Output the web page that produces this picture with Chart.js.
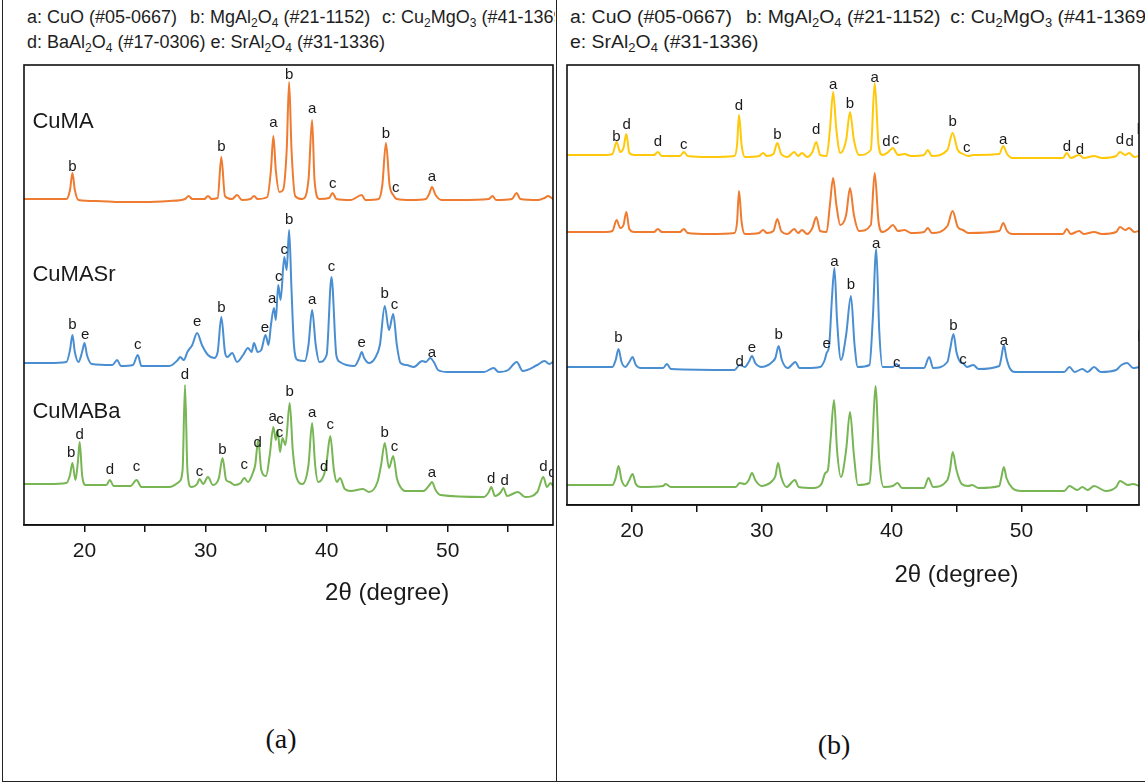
<!DOCTYPE html>
<html><head><meta charset="utf-8">
<script src="https://cdn.jsdelivr.net/npm/chart.js@4.4.1/dist/chart.umd.min.js"></script>
<style>
html,body{margin:0;padding:0;background:#fff;overflow:hidden;width:1145px;height:783px;}
#wrap{position:relative;width:1145px;height:783px;}
.cell{position:absolute;top:0;height:62px;overflow:hidden;}
.inner{position:absolute;left:0;top:0;width:700px;height:62px;}
.legend{position:absolute;white-space:nowrap;font-family:"Liberation Sans",Arial,sans-serif;font-size:18px;color:#1e1e1e;line-height:20px;}
.legend sub{font-size:12px;vertical-align:-4px;line-height:0;}
canvas{position:absolute;}
.plab{position:absolute;font-family:"Liberation Serif","Times New Roman",serif;font-size:28px;color:#111;transform:translate(-50%,-50%);}
.ln{position:absolute;background:#222;}
</style></head>
<body><div id="wrap">
<div class="ln" style="left:2px;top:0;width:1px;height:782px;"></div>
<div class="ln" style="left:556px;top:0;width:1px;height:782px;"></div>
<div class="ln" style="left:2px;top:781px;width:1143px;height:1px;"></div>

<div class="cell" style="left:3px;width:552px;">
  <div class="legend" style="left:24px;top:7px;">a: CuO (#05-0667)</div>
  <div class="legend" style="left:187px;top:7px;">b: MgAl<sub>2</sub>O<sub>4</sub> (#21-1152)</div>
  <div class="legend" style="left:379px;top:7px;">c: Cu<sub>2</sub>MgO<sub>3</sub> (#41-1369)</div>
  <div class="legend" style="left:24px;top:32px;">d: BaAl<sub>2</sub>O<sub>4</sub> (#17-0306) e: SrAl<sub>2</sub>O<sub>4</sub> (#31-1336)</div>
</div>
<div class="cell" style="left:558px;width:587px;">
  <div class="inner" style="left:12px;transform:scaleX(1.08);transform-origin:0 0;">
    <div class="legend" style="left:0px;top:7px;">a: CuO (#05-0667)</div>
    <div class="legend" style="left:163px;top:7px;">b: MgAl<sub>2</sub>O<sub>4</sub> (#21-1152)</div>
    <div class="legend" style="left:352px;top:7px;">c: Cu<sub>2</sub>MgO<sub>3</sub> (#41-1369)</div>
    <div class="legend" style="left:0px;top:32px;">e: SrAl<sub>2</sub>O<sub>4</sub> (#31-1336)</div>
  </div>
</div>

<canvas id="cA" width="549" height="560" style="left:14px;top:55px;"></canvas>
<canvas id="cB" width="592" height="540" style="left:557px;top:55px;"></canvas>

<div class="plab" style="left:281px;top:739px;">(a)</div>
<div class="plab" style="left:834px;top:745px;">(b)</div>
</div>

<script>
// ---------------- DATA ----------------
const xTicks = [20, 25, 30, 35, 40, 45, 50, 55];
const xTitle = '2θ (degree)';

// Panel (a): [2θ, intensity (a.u., stacked)]
const a_CuMA = [[15.0,326],[17.0,326],[18.5,326],[18.8,335],[19.0,352],[19.2,335],[19.5,325],[21.0,324],[23.0,323],[25.0,323],[27.0,324],[28.3,326],[28.6,329],[28.9,326],[29.9,326],[30.2,329],[30.5,326],[31.0,327],[31.3,368],[31.6,329],[32.2,326],[32.6,330],[33.0,325],[33.7,326],[34.0,329],[34.3,326],[35.1,328],[35.4,355],[35.6,389],[35.8,355],[36.1,333],[36.4,335],[36.7,375],[36.9,443],[37.1,375],[37.4,329],[38.0,326],[38.5,345],[38.8,405],[39.0,345],[39.4,326],[40.2,327],[40.5,332],[40.8,326],[42.0,325],[42.9,330],[43.2,325],[44.3,326],[44.6,340],[44.9,382],[45.2,340],[45.5,330],[45.8,326],[47.0,325],[48.2,326],[48.5,332],[48.7,338],[49.0,330],[49.5,325],[51.0,325],[53.4,326],[53.7,329],[54.0,325],[55.3,326],[55.7,332],[56.0,326],[57.5,325],[58.0,327],[58.3,329],[58.7,326]];
const a_CuMASr = [[15.0,162],[17.0,162],[18.5,163],[18.8,175],[19.0,190],[19.2,173],[19.5,163],[19.8,173],[20.0,182],[20.2,170],[20.6,161],[22.3,160],[22.7,165],[23.0,159],[24.0,160],[24.4,170],[24.7,159],[27.0,159],[27.7,165],[27.9,168],[28.2,165],[28.5,173],[28.9,180],[29.3,192],[29.7,180],[30.2,170],[30.7,167],[31.0,173],[31.3,208],[31.6,173],[31.8,168],[32.2,172],[32.6,163],[33.1,170],[33.5,177],[33.8,173],[34.0,182],[34.3,173],[34.6,175],[34.95,190],[35.2,180],[35.4,200],[35.65,217],[35.8,205],[36.0,240],[36.2,225],[36.5,268],[36.7,255],[36.9,295],[37.1,235],[37.3,180],[37.6,165],[38.2,164],[38.5,180],[38.8,215],[39.1,180],[39.4,163],[40.0,170],[40.4,248],[40.8,170],[41.1,163],[42.3,159],[42.7,167],[42.9,173],[43.1,167],[43.5,162],[44.0,167],[44.4,180],[44.8,219],[45.15,195],[45.5,211],[45.8,180],[46.1,162],[46.6,160],[47.2,158],[47.9,164],[48.2,163],[48.55,167],[48.9,162],[49.2,155],[50.0,153],[53.0,153],[53.8,157],[54.2,153],[55.0,155],[55.7,163],[56.2,154],[57.4,160],[58.0,164],[58.4,161],[58.7,163]];
const a_CuMABa = [[15.0,41],[17.0,41],[18.5,42],[18.8,50],[19.0,62],[19.25,45],[19.45,63],[19.6,83],[19.8,50],[20.1,40],[21.8,40],[22.1,45],[22.4,39],[23.8,39],[24.3,45],[24.7,38],[27.0,38],[27.8,43],[28.1,55],[28.3,140],[28.5,55],[28.8,38],[29.3,41],[29.5,46],[29.8,41],[30.2,48],[30.6,40],[31.1,47],[31.4,67],[31.7,45],[32.0,43],[32.4,40],[32.9,42],[33.2,47],[33.5,43],[33.9,52],[34.1,60],[34.35,85],[34.6,55],[35.0,49],[35.3,70],[35.6,98],[35.8,85],[35.95,95],[36.15,73],[36.35,87],[36.6,80],[36.95,122],[37.2,75],[37.5,48],[38.0,41],[38.5,60],[38.8,102],[39.05,60],[39.3,43],[39.8,51],[40.0,63],[40.3,89],[40.6,55],[40.85,43],[41.1,47],[41.5,36],[42.0,34],[43.0,36],[43.5,33],[44.2,43],[44.5,60],[44.8,82],[45.15,57],[45.5,69],[45.8,47],[46.0,40],[46.5,34],[48.0,34],[48.5,40],[48.7,43],[49.0,35],[49.4,30],[53.0,28],[53.4,33],[53.6,38],[53.9,29],[54.4,33],[54.6,37],[54.9,29],[55.8,33],[56.4,28],[57.4,33],[57.9,48],[58.2,38],[58.5,42],[58.7,39]];

// Panel (a) phase marks: [letter, 2θ, height]
const a_marksCuMA = [['b',19.0,358],['b',31.3,378],['a',35.6,402],['b',36.9,450],['a',38.8,416],['c',40.5,341],['b',44.9,391],['c',45.7,337],['a',48.7,348]];
const a_marksCuMASr = [['b',19.0,200],['e',20.05,190],['c',24.4,180],['e',29.3,203],['b',31.3,217],['e',34.9,197],['a',35.5,226],['c',36.05,248],['c',36.5,275],['b',36.9,305],['a',38.8,225],['c',40.4,258],['e',42.9,182],['b',44.8,231],['c',45.6,220],['a',48.7,172]];
const a_marksCuMABa = [['b',18.9,72],['d',19.6,90],['d',22.1,55],['c',24.3,58],['d',28.3,150],['c',29.5,53],['b',31.4,75],['c',33.2,60],['d',34.3,82],['a',35.55,108],['c',36.15,105],['c',36.1,92],['b',36.95,133],['a',38.8,112],['d',39.8,58],['c',40.3,100],['b',44.8,92],['c',45.6,78],['a',48.7,52],['d',53.6,46],['d',54.7,44],['d',57.9,58],['d',58.65,52]];
const a_names = [['CuMA',15.7,403],['CuMASr',15.7,250],['CuMABa',15.7,113]];

// Panel (b): [2θ, intensity (a.u., stacked)]
const b_yellow = [[15.0,350],[18.0,350],[18.5,351],[18.82,363],[19.1,353],[19.35,357],[19.57,371],[19.8,352],[20.2,350],[21.7,350],[22.0,353],[22.3,349],[23.7,349],[24.0,353],[24.3,349],[26.0,348],[27.9,349],[28.1,360],[28.25,390],[28.45,360],[28.7,348],[29.8,349],[30.1,352],[30.4,349],[30.9,351],[31.2,362],[31.5,351],[32.0,348],[32.5,353],[32.8,349],[33.1,352],[33.5,348],[33.9,353],[34.2,363],[34.5,350],[35.0,349],[35.25,375],[35.5,413],[35.75,375],[36.05,352],[36.5,365],[36.8,393],[37.1,365],[37.5,350],[38.4,355],[38.7,422],[39.0,360],[39.3,350],[39.75,353],[40.1,357],[40.5,350],[41.0,351],[41.5,349],[42.5,350],[42.8,355],[43.1,349],[44.3,355],[44.7,372],[45.1,355],[45.5,351],[45.9,349],[46.3,350],[48.3,351],[48.6,359],[48.9,351],[49.3,347],[53.2,347],[53.5,352],[53.8,347],[54.45,350],[54.8,347],[55.6,349],[56.2,347],[57.3,349],[57.6,353],[58.0,350],[58.3,352],[58.7,348],[59.06,349]];
const b_orange = [[15.0,273],[18.0,273],[18.5,274],[18.82,285],[19.1,277],[19.35,280],[19.57,293],[19.8,276],[20.2,273],[21.7,273],[22.0,276],[22.3,273],[23.7,273],[24.0,276],[24.3,272],[26.0,271],[27.9,272],[28.1,283],[28.25,314],[28.45,283],[28.7,271],[29.8,272],[30.1,275],[30.4,272],[30.9,274],[31.2,286],[31.5,274],[32.0,271],[32.5,276],[32.8,272],[33.1,275],[33.5,271],[33.9,277],[34.2,288],[34.5,274],[35.0,273],[35.25,300],[35.5,327],[35.75,300],[36.05,280],[36.5,290],[36.8,317],[37.1,290],[37.5,274],[38.4,280],[38.7,332],[39.0,283],[39.3,273],[39.75,276],[40.1,280],[40.5,274],[41.0,275],[41.5,272],[42.5,273],[42.8,277],[43.1,272],[44.3,279],[44.7,294],[45.1,278],[45.5,275],[45.9,272],[48.3,274],[48.6,282],[48.9,274],[49.3,271],[53.2,271],[53.5,276],[53.8,271],[54.45,274],[54.8,271],[55.6,273],[56.2,271],[57.3,273],[57.6,278],[58.0,275],[58.3,277],[58.7,273],[59.06,274]];
const b_blue = [[15.0,138],[18.5,138],[18.75,145],[18.97,156],[19.2,143],[19.5,138],[19.8,143],[20.05,148],[20.3,140],[20.7,137],[22.4,137],[22.7,141],[23.0,136],[27.9,135],[28.3,140],[28.7,138],[29.0,143],[29.25,149],[29.5,142],[30.0,138],[30.5,140],[30.8,143],[31.05,147],[31.3,159],[31.55,145],[32.0,137],[32.6,143],[32.9,137],[33.5,137],[34.5,138],[34.85,145],[35.0,152],[35.2,160],[35.4,205],[35.6,237],[35.8,185],[36.1,145],[36.5,170],[36.87,209],[37.15,160],[37.4,138],[38.3,140],[38.55,185],[38.82,256],[39.05,175],[39.3,138],[40.1,138],[40.37,141],[40.7,137],[42.5,137],[42.9,148],[43.2,137],[44.3,143],[44.5,155],[44.77,171],[45.0,153],[45.3,143],[45.5,142],[45.8,138],[46.3,140],[46.7,136],[48.3,139],[48.45,147],[48.65,160],[48.85,147],[49.1,137],[49.5,133],[53.3,133],[53.7,138],[54.1,133],[54.7,136],[55.1,133],[55.6,138],[56.1,133],[57.3,135],[57.7,140],[58.15,142],[58.6,137],[59.06,138]];
const b_green = [[15.0,20],[18.5,20],[18.75,27],[18.97,39],[19.2,25],[19.5,19],[19.8,25],[20.05,31],[20.3,21],[20.7,18],[22.4,19],[22.6,21],[23.0,18],[28.0,18],[28.3,22],[28.7,21],[29.0,25],[29.25,32],[29.5,25],[30.0,19],[30.5,21],[30.8,24],[31.05,29],[31.26,42],[31.5,28],[31.9,18],[32.56,25],[32.85,18],[34.0,17],[34.6,21],[34.9,32],[35.1,35],[35.3,65],[35.57,105],[35.8,55],[36.1,28],[36.5,55],[36.8,93],[37.1,50],[37.4,20],[38.3,22],[38.5,55],[38.76,119],[39.05,45],[39.4,18],[40.1,19],[40.46,22],[40.8,17],[42.5,17],[42.84,27],[43.2,18],[44.3,25],[44.5,35],[44.71,53],[45.0,35],[45.4,21],[45.9,19],[46.2,20],[46.7,17],[48.3,19],[48.45,27],[48.65,38],[48.85,27],[49.3,17],[50.0,14],[53.3,14],[53.7,19],[54.3,15],[54.7,18],[55.1,15],[55.6,19],[56.5,14],[57.3,18],[57.6,24],[58.2,20],[58.6,21],[59.06,19]];

// Panel (b) phase marks
const b_marksYellow = [['b',18.8,368],['d',19.6,380],['d',22.0,363],['c',24.0,360],['d',28.25,399],['b',31.2,370],['d',34.2,375],['a',35.5,420],['b',36.8,401],['a',38.7,427],['d',39.6,363],['c',40.3,365],['b',44.7,383],['c',45.8,357],['a',48.6,365],['d',53.5,358],['d',54.5,355],['d',57.6,365],['d',58.35,363],['b',59.2,375]];
const b_marksBlue = [['b',18.97,167],['d',28.3,143],['e',29.25,157],['b',31.3,170],['e',35.0,161],['a',35.6,243],['b',36.87,220],['a',38.82,261],['c',40.4,142],['b',44.77,179],['c',45.5,145],['a',48.65,164],['b',59.25,168]];

const colOrange = '#EE7B30', colBlue = '#4A8ED2', colGreen = '#78B555', colYellow = '#FFC90A';

// ---------------- DRAWING ----------------
const SANS = '"Liberation Sans", Arial, Helvetica, sans-serif';

const framePlugin = {
  id: 'frame',
  afterDatasetsDraw(chart) {
    const {ctx, chartArea: a} = chart;
    ctx.save();
    ctx.strokeStyle = '#111'; ctx.lineWidth = 1.6;
    ctx.strokeRect(a.left, a.top, a.right - a.left, a.bottom - a.top);
    ctx.restore();
  }
};

const markPlugin = {
  id: 'marks',
  afterDatasetsDraw(chart, args, opts) {
    const {ctx, chartArea: a, scales: {x, y}} = chart;
    ctx.save();
    ctx.beginPath(); ctx.rect(a.left, a.top, a.right - a.left, a.bottom - a.top); ctx.clip();
    ctx.fillStyle = '#1a1a1a';
    ctx.textAlign = 'center'; ctx.textBaseline = 'middle';
    ctx.font = '15px ' + SANS;
    (opts.marks || []).forEach(list => list.forEach(([t, px, py]) => {
      ctx.fillText(t, x.getPixelForValue(px), y.getPixelForValue(py));
    }));
    ctx.font = '22px ' + SANS;
    ctx.textAlign = 'left';
    (opts.names || []).forEach(([t, px, py]) => ctx.fillText(t, x.getPixelForValue(px), y.getPixelForValue(py)));
    ctx.restore();
    // axis title
    ctx.save();
    ctx.fillStyle = '#1a1a1a';
    ctx.font = '24px ' + SANS;
    ctx.textAlign = 'center'; ctx.textBaseline = 'middle';
    ctx.fillText(xTitle, x.getPixelForValue(45), a.bottom + opts.titleOffset);
    ctx.restore();
  }
};

function panel(id, series, xmax, ymax, marks, names, titleOffset) {
  return new Chart(document.getElementById(id), {
    type: 'line',
    data: {
      datasets: series.map(([pts, col]) => ({
        data: pts.map(([px, py]) => ({x: px, y: py})),
        borderColor: col, borderWidth: 2, pointRadius: 0, fill: false,
        cubicInterpolationMode: 'monotone', borderJoinStyle: 'round', borderCapStyle: 'round'
      }))
    },
    options: {
      responsive: false, animation: false, events: [],
      layout: {padding: {left: 10, right: 10, top: 10, bottom: 0}},
      plugins: {legend: {display: false}, tooltip: {enabled: false}, title: {display: false},
                marks: {marks, names, titleOffset}},
      scales: {
        x: {
          type: 'linear', min: 15, max: xmax,
          afterBuildTicks: s => { s.ticks = xTicks.map(v => ({value: v})); },
          afterFit: s => { s.height = 90; },
          ticks: {callback: v => (v % 10 === 0 ? String(v) : ''), autoSkip: false, maxRotation: 0,
                  padding: 7, color: '#1a1a1a', font: {family: SANS, size: 21}},
          grid: {display: true, drawOnChartArea: false, drawTicks: true, tickLength: 7, color: '#111', lineWidth: 1.5},
          border: {display: true, color: '#111', width: 1.6}
        },
        y: {display: false, min: 0, max: ymax}
      }
    },
    plugins: [framePlugin, markPlugin]
  });
}

panel('cA', [[a_CuMA, colOrange], [a_CuMASr, colBlue], [a_CuMABa, colGreen]], 58.7, 460,
      [a_marksCuMA, a_marksCuMASr, a_marksCuMABa], a_names, 68);
panel('cB', [[b_yellow, colYellow], [b_orange, colOrange], [b_blue, colBlue], [b_green, colGreen]], 59.06, 440,
      [b_marksYellow, b_marksBlue], [], 70);
</script>
</body></html>
